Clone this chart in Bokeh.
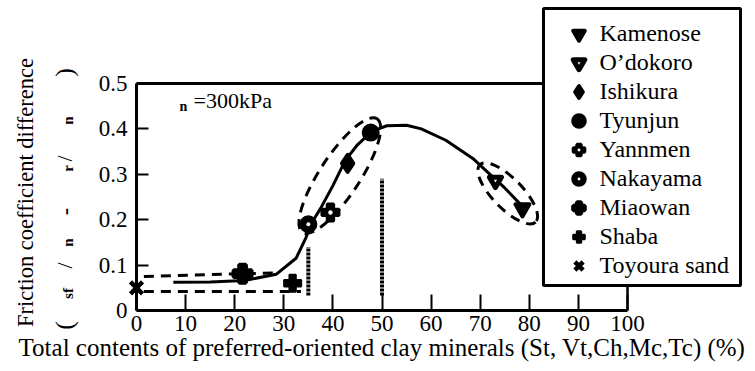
import math
from bokeh.plotting import figure
from bokeh.models import (Legend, LegendItem, Label, FixedTicker, Range1d,
                          LinearAxis, BoxAnnotation)
from bokeh.embed import file_html
from bokeh.resources import INLINE

# ---- data ----
names = ["Kamenose", "O\u2019dokoro", "Ishikura", "Tyunjun", "Yannmen",
         "Nakayama", "Miaowan", "Shaba", "Toyoura sand"]
xs = [78.6, 73.1, 43.0, 47.7, 39.5, 35.0, 21.6, 31.8, 0.0]
ys = [0.225, 0.286, 0.324, 0.392, 0.216, 0.190, 0.081, 0.060, 0.050]

curve_x = [7.5, 15, 22, 28.5, 32.5, 34.5, 35.5, 37.5, 40, 42.5, 45, 48, 51, 55, 58, 63, 68.5, 72, 75, 79]
curve_y = [0.062, 0.063, 0.066, 0.080, 0.115, 0.160, 0.190, 0.225, 0.275, 0.330, 0.365, 0.395, 0.407, 0.408, 0.400, 0.375, 0.335, 0.300, 0.270, 0.225]

upper_x = [1.5, 28.5]
upper_y = [0.075, 0.083]
lower_x = [1.5, 33.5]
lower_y = [0.042, 0.042]

ell_x = [41.4, 75.6]
ell_y = [0.297, 0.258]
ell_w = [136, 80]
ell_h = [40, 30]
ell_a = [0.99, -0.80]

vline_x = [35, 50]
vline_y0 = [0.033, 0.033]
vline_y1 = [0.14, 0.29]

xticks = [0, 10, 20, 30, 40, 50, 60, 70, 80, 90, 100]
yticks = [0, 0.1, 0.2, 0.3, 0.4, 0.5]
ytick_labels = ["0", "0.1", "0.2", "0.3", "0.4", "0.5"]

FONT = "Liberation Serif"
FS = "23px"

# ---- layout (pixels) ----
W, H = 745, 362
X0, X100 = 136, 627      # px of x=0 and x=100
Y0, Y05 = 310, 83        # px of y=0 and y=0.5
SX = (X100 - X0) / 100.0
SY = (Y0 - Y05) / 0.5

def dx(px):
    return (px - X0) / SX

def dy(py):
    return (Y0 - py) / SY

p = figure(width=W, height=H, output_backend="svg", toolbar_location=None,
           x_range=Range1d(dx(0), dx(W)), y_range=Range1d(dy(H), dy(0)),
           min_border=0)
p.grid.visible = False
p.outline_line_color = None
p.background_fill_color = "white"

xa = p.xaxis[0]
ya = p.yaxis[0]
xa.fixed_location = 0
ya.fixed_location = 0
xa.bounds = (0, 100)
ya.bounds = (0, 0.5)
for ax in (xa, ya):
    ax.axis_line_width = 3
    ax.major_tick_line_width = 2
    ax.major_tick_out = 0
    ax.minor_tick_in = 0
    ax.minor_tick_out = 0
    ax.major_label_text_font = FONT
    ax.major_label_text_font_size = FS
    ax.major_label_text_font_style = "normal"
    ax.major_label_text_color = "black"
    ax.axis_label_text_font = FONT
    ax.axis_label_text_font_style = "normal"
    ax.axis_label_text_color = "black"

xa.ticker = FixedTicker(ticks=xticks)
ya.ticker = FixedTicker(ticks=yticks)
xa.major_label_overrides = {t: str(t) for t in xticks}
ya.major_label_overrides = dict(zip(yticks, ytick_labels))
xa.major_tick_in = 16
ya.major_tick_in = 12
xa.major_label_standoff = 5
ya.major_label_standoff = 9
xa.axis_label = "Total contents of preferred-oriented clay minerals (St, Vt,Ch,Mc,Tc) (%)"
xa.axis_label_text_font_size = "25px"
xa.axis_label_standoff = 0

# top and right frame edges as bare axes
top_ax = LinearAxis(fixed_location=0.5, bounds=(0, 100), ticker=FixedTicker(ticks=[]),
                    axis_line_width=3, major_tick_in=0, major_tick_out=0,
                    minor_tick_in=0, minor_tick_out=0)
right_ax = LinearAxis(fixed_location=100, bounds=(0, 0.5), ticker=FixedTicker(ticks=[]),
                      axis_line_width=2.5, major_tick_in=0, major_tick_out=0,
                      minor_tick_in=0, minor_tick_out=0)
p.add_layout(top_ax, "above")
p.add_layout(right_ax, "right")

# curve and enclosures
p.line(curve_x, curve_y, line_color="black", line_width=3)
p.line(upper_x, upper_y, line_color="black", line_width=3, line_dash="10 7")
p.line(lower_x, lower_y, line_color="black", line_width=3, line_dash="10 7")
p.ellipse(x=ell_x, y=ell_y, width=ell_w, height=ell_h, angle=ell_a,
          width_units="screen", height_units="screen",
          fill_alpha=0, line_color="black", line_width=3, line_dash="10 7")
p.segment(x0=vline_x, y0=vline_y0, x1=vline_x, y1=vline_y1,
          line_color="black", line_width=4, line_dash="3 1")

# markers (thick outlines so that the legend glyphs stay large)
r = {}
def pt(i):
    return [xs[i]], [ys[i]]

x, y = pt(0); r[0] = [p.scatter(x, y, marker="inverted_triangle", size=14, color="black",
                                line_width=4, line_join="round")]
x, y = pt(1); r[1] = [p.scatter(x, y, marker="inverted_triangle", size=12, fill_color="white",
                                line_color="black", line_width=5, line_join="round")]
x, y = pt(2); r[2] = [p.scatter(x, y, marker="diamond", size=17, color="black",
                                line_width=4, line_join="round")]
x, y = pt(3); r[3] = [p.scatter(x, y, marker="circle", size=14, color="black", line_width=4)]
x, y = pt(4); r[4] = [p.scatter(x, y, marker="plus", size=17, color="black", line_width=3),
                      p.scatter(x, y, marker="dot", size=18, line_color="white",
                                fill_color="white", line_width=1)]
x, y = pt(5); r[5] = [p.scatter(x, y, marker="circle", size=14, color="black", line_width=4),
                      p.scatter(x, y, marker="dot", size=16, line_color="white",
                                fill_color="white", line_width=1)]
x, y = pt(6); r[6] = [p.scatter(x, y, marker="plus", size=18, fill_color="black",
                                line_color="black", line_width=4)]
x, y = pt(7); r[7] = [p.scatter(x, y, marker="plus", size=17, color="black", line_width=2)]
x, y = pt(8); r[8] = [p.scatter(x, y, marker="x", size=17, line_color="black", line_width=4.5)]

# legend frame box
box = BoxAnnotation(left=dx(543), right=dx(740), top=dy(8), bottom=dy(285),
                    fill_color="white", fill_alpha=1, line_color="black",
                    line_width=3, line_alpha=1)
p.add_layout(box)

GW = 29
items = [LegendItem(label=names[i], renderers=r[i]) for i in range(len(names))]
legend = Legend(items=items, location=(578 - GW / 2, H - (33 - GW / 2 + 9 * GW)),
                border_line_color=None, background_fill_alpha=0,
                label_text_font=FONT, label_text_font_size="24px",
                label_text_font_style="normal", label_text_color="black",
                glyph_width=GW, glyph_height=GW, label_height=20, spacing=0,
                padding=0, label_standoff=int(600 - (578 + GW / 2)), margin=0)
p.add_layout(legend, "center")

# annotation sigma_n = 300kPa (sigma glyph missing in original)
p.add_layout(Label(x=dx(183), y=dy(106), text="n", text_font=FONT, text_font_size="14px",
                   text_font_style="bold", text_color="black",
                   text_baseline="middle", text_align="center"))
p.add_layout(Label(x=dx(193), y=dy(100), text="=300kPa", text_font=FONT, text_font_size="22px",
                   text_color="black", text_baseline="middle", text_align="left"))

# y axis title (rotated pieces)
def ylab(px, py, t, size, style="normal"):
    p.add_layout(Label(x=dx(px), y=dy(py), text=t, angle=math.pi / 2, text_font=FONT,
                       text_font_size=size, text_font_style=style, text_color="black",
                       text_align="center", text_baseline="middle"))

ylab(25, 192, "Friction coefficient difference", "22.5px")
ylab(64, 325, "(", "26px")
ylab(67, 293, "sf", "15px", "bold")
ylab(64, 265, "/", "22px")
ylab(67, 242, "n", "15px", "bold")
ylab(64, 211, "-", "22px", "bold")
ylab(67, 168, "r", "15px", "bold")
ylab(64, 158, "/", "22px")
ylab(67, 120, "n", "15px", "bold")
ylab(64, 72, ")", "26px")

open("out.html", "w").write(file_html(p, INLINE))
